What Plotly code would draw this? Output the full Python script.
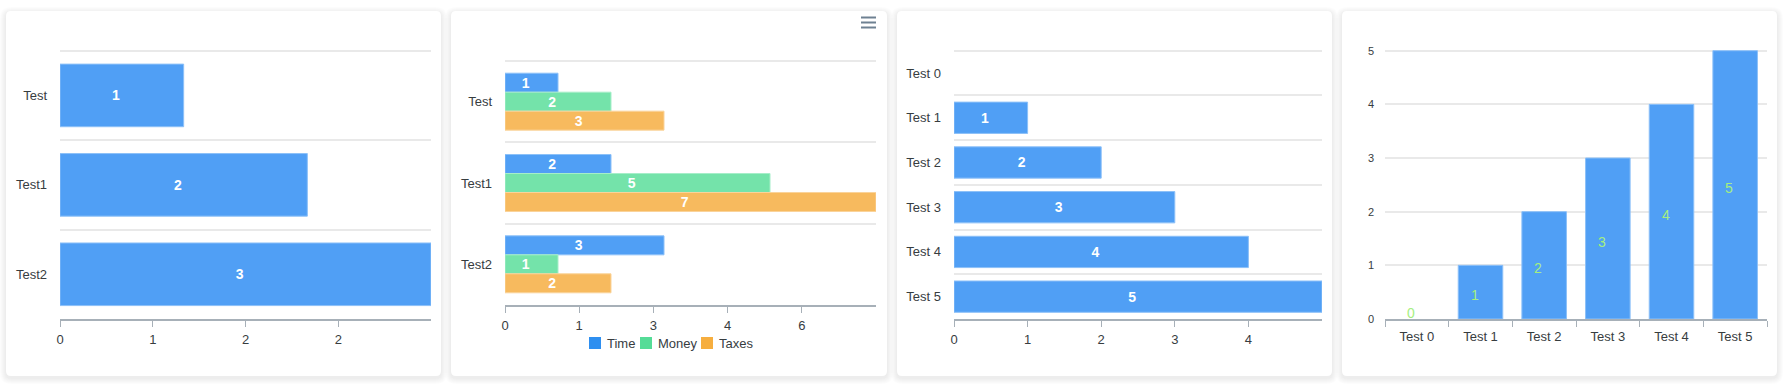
import plotly.graph_objects as go

# ---------------- data ----------------
c1_categories = ["Test", "Test1", "Test2"]
c1_values = [1, 2, 3]
c1_tickvals = [0, 0.75, 1.5, 2.25]
c1_ticktext = ["0", "1", "2", "2"]

c2_categories = ["Test", "Test1", "Test2"]
c2_series = ["Time", "Money", "Taxes"]
c2_time = [1, 2, 3]
c2_money = [2, 5, 1]
c2_taxes = [3, 7, 2]
c2_tickvals = [0, 1.4, 2.8, 4.2, 5.6]
c2_ticktext = ["0", "1", "3", "4", "6"]

c3_categories = ["Test 0", "Test 1", "Test 2", "Test 3", "Test 4", "Test 5"]
c3_values = [0, 1, 2, 3, 4, 5]
c3_tickvals = [0, 1, 2, 3, 4]

c4_categories = ["Test 0", "Test 1", "Test 2", "Test 3", "Test 4", "Test 5"]
c4_values = [0, 1, 2, 3, 4, 5]

# ---------------- style ----------------
W, H = 1785, 386
FONT = "Liberation Sans Narrow, Arial Narrow, Liberation Sans, Arial, sans-serif"
TXT = "#373d3f"
GRID = "#e9e9e9"
AXIS = "#a7b0b8"
BLUE = "#509ff5"
BLUE_EDGE = "#8cc0f8"
C2_COLORS = ["#509ff5", "#74e3aa", "#f7ba5e"]
C2_EDGES = ["#8cc0f8", "#a6eec9", "#fad39a"]
C2_LEGEND = ["#2e8ff0", "#55dc97", "#f6ae3f"]
LABEL4 = "#a6ef7f"
PAD = 3  # px of extra room above the top grid line so it is not clipped
LABEL_PAD = "\u00a0" * 3  # nudges the centred value labels a little to the left, like the original


def px(x):
    return x / W


def py(y):
    return 1 - y / H


def dom_x(a, b):
    return [px(a), px(b)]


def dom_y(top, bottom):
    return [py(bottom), py(top)]


def rrect(x0, y0, x1, y1, r):
    return (
        f"M{px(x0 + r)},{py(y0)} L{px(x1 - r)},{py(y0)} "
        f"Q{px(x1)},{py(y0)} {px(x1)},{py(y0 + r)} "
        f"L{px(x1)},{py(y1 - r)} Q{px(x1)},{py(y1)} {px(x1 - r)},{py(y1)} "
        f"L{px(x0 + r)},{py(y1)} Q{px(x0)},{py(y1)} {px(x0)},{py(y1 - r)} "
        f"L{px(x0)},{py(y0 + r)} Q{px(x0)},{py(y0)} {px(x0 + r)},{py(y0)} Z"
    )


def edge_widths(vals):
    return [1 if v else 0 for v in vals]


def idx(cats):
    return list(range(len(cats)))


def labels(vals):
    return [f"{v}{LABEL_PAD}" if v else "" for v in vals]


label_font = dict(color="white", size=14, family=FONT, weight="bold")

fig = go.Figure()

# chart 1
fig.add_trace(go.Bar(
    x=c1_values, y=idx(c1_categories), orientation="h",
    marker=dict(color=BLUE, line=dict(color=BLUE_EDGE, width=edge_widths(c1_values))),
    text=labels(c1_values), textposition="inside", insidetextanchor="middle",
    textangle=0, constraintext="none", textfont=label_font,
    customdata=c1_categories, hovertemplate="%{customdata}: %{x}<extra></extra>",
    xaxis="x", yaxis="y", showlegend=False,
))

# chart 2
for name, vals, col, edge in zip(c2_series, [c2_time, c2_money, c2_taxes], C2_COLORS, C2_EDGES):
    fig.add_trace(go.Bar(
        x=vals, y=idx(c2_categories), orientation="h", name=name,
        marker=dict(color=col, line=dict(color=edge, width=edge_widths(vals))),
        text=labels(vals), textposition="inside", insidetextanchor="middle",
        textangle=0, constraintext="none", textfont=label_font,
        customdata=c2_categories, hovertemplate="%{customdata}: %{x}",
        xaxis="x2", yaxis="y2", showlegend=False,
    ))

# chart 3
fig.add_trace(go.Bar(
    x=c3_values, y=idx(c3_categories), orientation="h",
    marker=dict(color=BLUE, line=dict(color=BLUE_EDGE, width=edge_widths(c3_values))),
    text=labels(c3_values), textposition="inside", insidetextanchor="middle",
    textangle=0, constraintext="none", textfont=label_font,
    customdata=c3_categories, hovertemplate="%{customdata}: %{x}<extra></extra>",
    xaxis="x3", yaxis="y3", showlegend=False,
))

# chart 4
fig.add_trace(go.Bar(
    x=c4_categories, y=c4_values,
    marker=dict(color=BLUE, line=dict(color=BLUE_EDGE, width=edge_widths(c4_values))),
    textposition="none",
    xaxis="x4", yaxis="y4", showlegend=False,
))

annotations = []
for cat, v in zip(c4_categories, c4_values):
    annotations.append(dict(
        x=cat, y=v / 2, xref="x4", yref="y4", text=str(v), showarrow=False,
        xshift=-6, yshift=(-3 if v > 0 else 6),
        font=dict(color=LABEL4, size=14, family=FONT),
    ))

# ---------------- cards ----------------
shapes = []
cards = [(6, 11, 441, 376), (451, 11, 887, 376), (897, 11, 1332, 376), (1342, 11, 1777, 376)]
for (x0, y0, x1, y1) in cards:
    for k in range(6, 0, -1):
        shapes.append(dict(type="path", path=rrect(x0 - k, y0 - k + 2, x1 + k, y1 + k + 2, 5 + k),
                           xref="paper", yref="paper", fillcolor="rgba(0,0,0,0.013)",
                           line=dict(width=0), layer="below"))
    shapes.append(dict(type="path", path=rrect(x0, y0, x1, y1, 5), xref="paper", yref="paper",
                       fillcolor="white", line=dict(width=0), layer="below"))

# hamburger menu (chart 2)
for yy in (17.5, 22.5, 27.5):
    shapes.append(dict(type="line", xref="paper", yref="paper", x0=px(861), x1=px(876),
                       y0=py(yy), y1=py(yy), line=dict(color="#6e8192", width=2)))

# manual legend chart 2
legend_x = [589, 640, 701]
for name, col, lx in zip(c2_series, C2_LEGEND, legend_x):
    shapes.append(dict(type="rect", xref="paper", yref="paper", x0=px(lx), x1=px(lx + 12),
                       y0=py(349), y1=py(337), fillcolor=col, line=dict(width=0)))
    annotations.append(dict(x=px(lx + 16), y=py(343), xref="paper", yref="paper", text=name,
                            showarrow=False, xanchor="left", yanchor="middle",
                            font=dict(color=TXT, size=13, family=FONT)))

tickfont = dict(color=TXT, size=13, family=FONT)


def xnum(domain, anchor, rng, tickvals, ticktext=None):
    d = dict(domain=domain, anchor=anchor, range=rng, tickvals=tickvals,
             showgrid=False, zeroline=False, showline=True, linecolor=AXIS, linewidth=1.5,
             ticks="outside", ticklen=6, tickcolor=AXIS, tickwidth=1, tickfont=tickfont,
             ticklabelstandoff=2, automargin=False, fixedrange=True)
    if ticktext is not None:
        d["ticktext"] = ticktext
    return d


def ycat(top, bottom, anchor, cats):
    n = len(cats)
    band = (bottom - top) / n
    return dict(domain=dom_y(top - PAD, bottom), anchor=anchor,
                range=[n - 0.5, -0.5 - PAD / band],
                tickmode="array", tickvals=idx(cats), ticktext=cats,
                showgrid=False, ticks="", showline=False, zeroline=False, tickfont=tickfont,
                minor=dict(tickmode="array", tickvals=[i - 0.5 for i in range(n + 1)],
                           showgrid=True, gridcolor=GRID, gridwidth=1.5, ticks=""),
                ticklabelstandoff=12, automargin=False, fixedrange=True)


top4, bot4, max4 = 50.7, 319, 5
unit4 = (bot4 - top4) / max4

fig.update_layout(
    width=W, height=H, margin=dict(l=0, r=0, t=0, b=0, pad=0, autoexpand=False),
    paper_bgcolor="white", plot_bgcolor="rgba(0,0,0,0)",
    barmode="group", bargap=0.3, bargroupgap=0,
    font=dict(family=FONT, color=TXT),
    showlegend=False,
    xaxis=xnum(dom_x(60, 431), "y", [0, 3], c1_tickvals, c1_ticktext),
    yaxis=ycat(50.7, 319, "x", c1_categories),
    xaxis2=xnum(dom_x(505, 876), "y2", [0, 7], c2_tickvals, c2_ticktext),
    yaxis2=ycat(61, 305, "x2", c2_categories),
    xaxis3=xnum(dom_x(954, 1322), "y3", [0, 5], c3_tickvals),
    yaxis3=ycat(50.7, 319, "x3", c3_categories),
    xaxis4=dict(domain=dom_x(1385, 1767), anchor="y4", type="category", tickson="boundaries",
                showgrid=False, showline=True, linecolor=AXIS, linewidth=1.5,
                ticks="outside", ticklen=6, tickcolor=AXIS, tickwidth=1,
                tickfont=dict(color=TXT, size=13, family=FONT), ticklabelstandoff=5,
                automargin=False, fixedrange=True),
    yaxis4=dict(domain=dom_y(top4 - PAD, bot4), anchor="x4", range=[0, max4 + PAD / unit4],
                tickmode="array", tickvals=list(range(max4 + 1)),
                showgrid=True, gridcolor=GRID, gridwidth=1.5, zeroline=False, showline=False,
                ticks="", tickfont=dict(color=TXT, size=11, family=FONT), ticklabelstandoff=10,
                automargin=False, fixedrange=True),
    shapes=shapes, annotations=annotations,
)

fig.write_html(
    "out.html",
    config={"displayModeBar": False},
    post_script=(
        "document.documentElement.style.margin='0';"
        "document.documentElement.style.overflow='hidden';"
        "document.body.style.margin='0';document.body.style.overflow='hidden';"
        "var gd=document.getElementById('{plot_id}');"
        "gd.style.position='fixed';gd.style.left='0px';gd.style.top='0px';"
    ),
)
